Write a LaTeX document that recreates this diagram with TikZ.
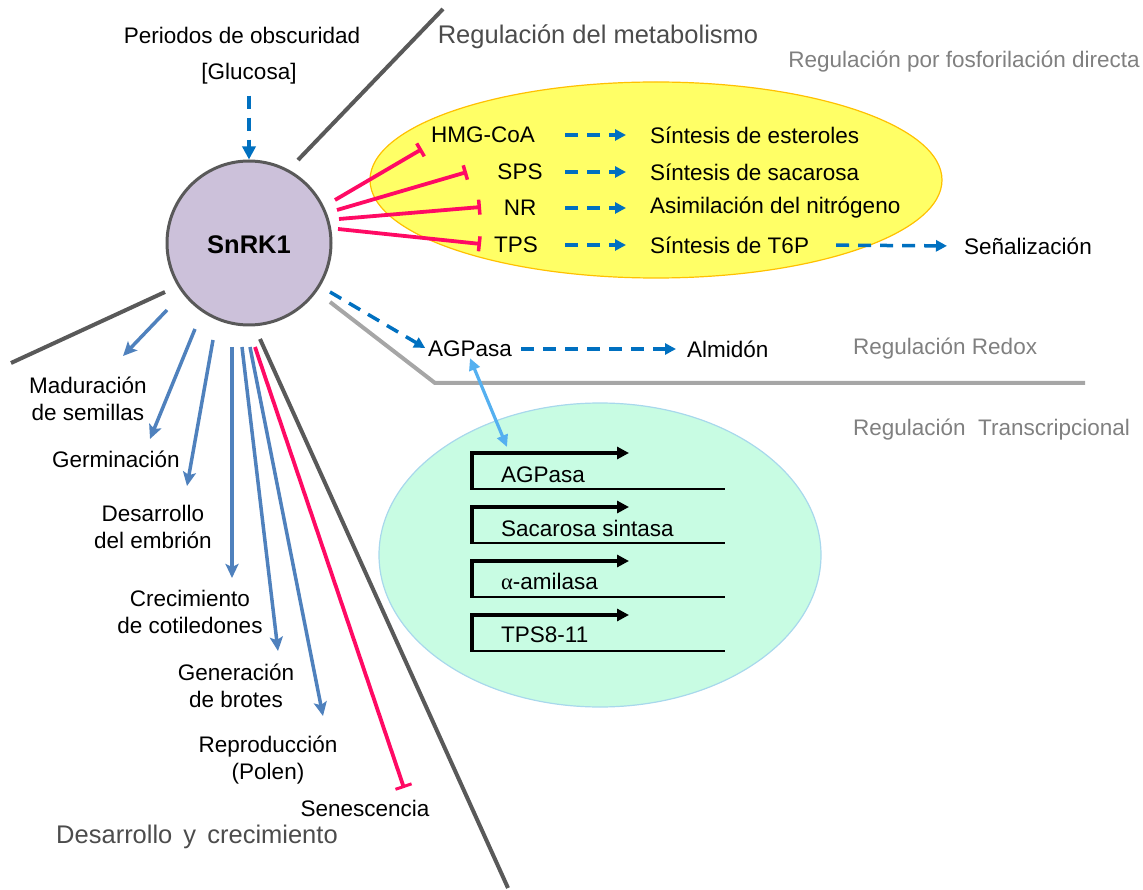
\documentclass[tikz,border=0pt]{standalone}
\usepackage{fontspec}
\setmainfont{Liberation Sans}
\newfontfamily\greekfont{Liberation Serif}
\usepackage{tikz}
\usetikzlibrary{arrows.meta, positioning, calc}

\definecolor{lavanda}{HTML}{CCC1DA}
\definecolor{gris}{HTML}{595959}
\definecolor{grisclaro}{HTML}{A6A6A6}
\definecolor{amarillo}{HTML}{FFFF66}
\definecolor{naranja}{HTML}{FFC000}
\definecolor{menta}{HTML}{C8FCE3}
\definecolor{celeste}{HTML}{A8D8EC}
\definecolor{rojo}{HTML}{FF0A64}
\definecolor{azul}{HTML}{0070C0}
\definecolor{azulclaro}{HTML}{55B0F0}
\definecolor{acero}{HTML}{4F81BD}

\begin{document}
\begin{tikzpicture}[x=1pt, y=-1pt,
    txt/.style={inner sep=1pt, font=\fontsize{22.5}{27}\selectfont, align=center},
    titulo/.style={inner sep=1pt, font=\fontsize{25.5}{30}\selectfont, text=gris!85!black},
    subtitulo/.style={inner sep=1pt, font=\fontsize{22.5}{27}\selectfont, text=gray},
    divisor/.style={draw=gris, line width=4pt},
    dflecha/.style={draw=azul, line width=3.5pt, dash pattern=on 13pt off 9pt, -{Triangle[length=11pt, width=11pt]}},
    inhibe/.style={draw=rojo, line width=3.8pt, -{Bar[width=15pt, line width=3.5pt]}},
    desflecha/.style={draw=acero, line width=3.5pt, -{Stealth[length=14pt, width=13pt, inset=3pt]}},
    gen/.style={line width=3.8pt, -{Triangle[length=12pt, width=12pt]}}
  ]
  \useasboundingbox (0,0) rectangle (1143,890);

  % Ellipses
  \draw[fill=amarillo, draw=naranja, line width=1.2pt] (656,180) ellipse (286pt and 98pt);
  \draw[fill=menta, draw=celeste, line width=1.2pt] (600,555) ellipse (221pt and 152pt);

  % Divisores
  \draw[divisor] (298,160) -- (443,9);
  \draw[divisor] (165,292) -- (11,363);
  \draw[divisor] (260,339) -- (508,888);
  \draw[draw=grisclaro, line width=4pt] (330,302) -- (435,383) -- (1085,383);

  % SnRK1
  \node[circle, draw=gris, line width=3pt, fill=lavanda, minimum size=164pt] (snrk) at (249,243) {};
  \node[txt, font=\fontsize{25.5}{30}\selectfont\bfseries] (snrklbl) at (249,245) {SnRK1};

  % Entrada
  \node[txt] (oscuro) at (242,35) {Periodos de obscuridad};
  \node[txt] (gluc) at (249,74) {[Glucosa]};
  \draw[dflecha, -{Triangle[length=13pt, width=13pt]}] (gluc.south) ++(0,10) coordinate (g1) -- (snrk.north);

  % Titulos
  \node[titulo] (tmet) at (598,37) {Regulación del metabolismo};
  \node[subtitulo] (tfos) at (964,62) {Regulación por fosforilación directa};
  \node[subtitulo, anchor=west] (tred) at (852,349) {Regulación Redox};
  \node[subtitulo, anchor=west] (ttra) at (852,430) {Regulación\ \ Transcripcional};
  \node[titulo] (tdes) at (197,837) {Desarrollo\hspace{4pt} y\hspace{4pt} crecimiento};

  % Fosforilacion directa
  \node[txt] (hmg) at (483,135) {HMG-CoA};
  \node[txt] (sps) at (520,172) {SPS};
  \node[txt] (nr) at (520,208) {NR};
  \node[txt] (tps) at (516,245) {TPS};
  \node[txt, anchor=west] (est) at (649,135) {Síntesis de esteroles};
  \node[txt, anchor=west] (sac) at (649,172) {Síntesis de sacarosa};
  \node[txt, anchor=west] (asi) at (649,208) {Asimilación del nitrógeno};
  \node[txt, anchor=west] (t6p) at (649,245) {Síntesis de T6P};
  \node[txt, anchor=west] (sen) at (963,246) {Señalización};

  \coordinate (d1) at (565,0);
  \coordinate (d2) at (626,0);
  \draw[dflecha] (hmg -| d1) -- (hmg -| d2);
  \draw[dflecha] (sps -| d1) -- (sps -| d2);
  \draw[dflecha] (nr -| d1) -- (nr -| d2);
  \draw[dflecha] (tps -| d1) -- (tps -| d2);
  \draw[dflecha, shorten <=26pt, shorten >=16pt] (t6p.east) -- (sen.west);

  % Inhibicion
  \coordinate (i1) at (335,200);
  \coordinate (i2) at (337,210);
  \coordinate (i3) at (339,219);
  \coordinate (i4) at (338,229);
  \draw[inhibe] (i1) -- (422,149) coordinate (b1);
  \draw[inhibe] (i2) -- (467,172) coordinate (b2);
  \draw[inhibe] (i3) -- (481,207) coordinate (b3);
  \draw[inhibe] (i4) -- (481,244) coordinate (b4);

  % Redox
  \node[txt] (agp) at (470,349) {AGPasa};
  \node[txt, anchor=west] (alm) at (686,349) {Almidón};
  \coordinate (r1) at (330,292);
  \draw[dflecha, shorten >=2pt] (r1) -- (agp.west);
  \draw[dflecha, shorten <=8pt, shorten >=10pt] (agp.east) -- (alm.west);

  % Genes
  \coordinate (g1) at (472,453);
  \coordinate (g2) at (472,507);
  \coordinate (g3) at (472,561);
  \coordinate (g4) at (472,615);
  \draw[gen] (g1 |- 0,489) -- (g1) -- (629,453);
  \draw[line width=1.3pt] (470,489) -- (725,489);
  \draw[gen] (g2 |- 0,543) -- (g2) -- (629,507);
  \draw[line width=1.3pt] (470,543) -- (725,543);
  \draw[gen] (g3 |- 0,597) -- (g3) -- (629,561);
  \draw[line width=1.3pt] (470,597) -- (725,597);
  \draw[gen] (g4 |- 0,651) -- (g4) -- (629,615);
  \draw[line width=1.3pt] (470,651) -- (725,651);
  \node[txt, anchor=west] (gagp) at (500,475) {AGPasa};
  \node[txt, anchor=west] (gsac) at (500,528) {Sacarosa sintasa};
  \node[txt, anchor=west] (gami) at (500,581) {{\greekfont α}-amilasa};
  \node[txt, anchor=west] (gtps) at (500,635) {TPS8-11};

  \draw[draw=azulclaro, line width=3.2pt, {Triangle[length=12pt, width=11pt]}-{Triangle[length=12pt, width=11pt]}] (agp.south) -- (507,447) coordinate (ga);

  % Desarrollo
  \node[txt] (mad) at (88,399) {Maduración\\de semillas};
  \node[txt] (ger) at (116,459) {Germinación};
  \node[txt] (des) at (153,527) {Desarrollo\\del embrión};
  \node[txt] (cre) at (190,612) {Crecimiento\\de cotiledones};
  \node[txt] (gene) at (236,686) {Generación\\de brotes};
  \node[txt] (rep) at (268,760) {Reproducción\\(Polen)};
  \node[txt] (sene) at (365,808) {Senescencia};

  \draw[desflecha] (167,310) coordinate (s1) -- (123,356) coordinate (e1);
  \draw[desflecha] (195,329) coordinate (s2) -- (150,439) coordinate (e2);
  \draw[desflecha] (213,340) coordinate (s3) -- (187,486) coordinate (e3);
  \draw[desflecha] (232,347) coordinate (s4) -- (232,578) coordinate (e4);
  \draw[desflecha] (242,347) coordinate (s5) -- (278,651) coordinate (e5);
  \draw[desflecha] (250,347) coordinate (s6) -- (323,716) coordinate (e6);
  \draw[inhibe, -{Bar[width=17pt, line width=3pt]}] (255,347) coordinate (s7) -- (404,788) coordinate (e7);
\end{tikzpicture}
\end{document}
